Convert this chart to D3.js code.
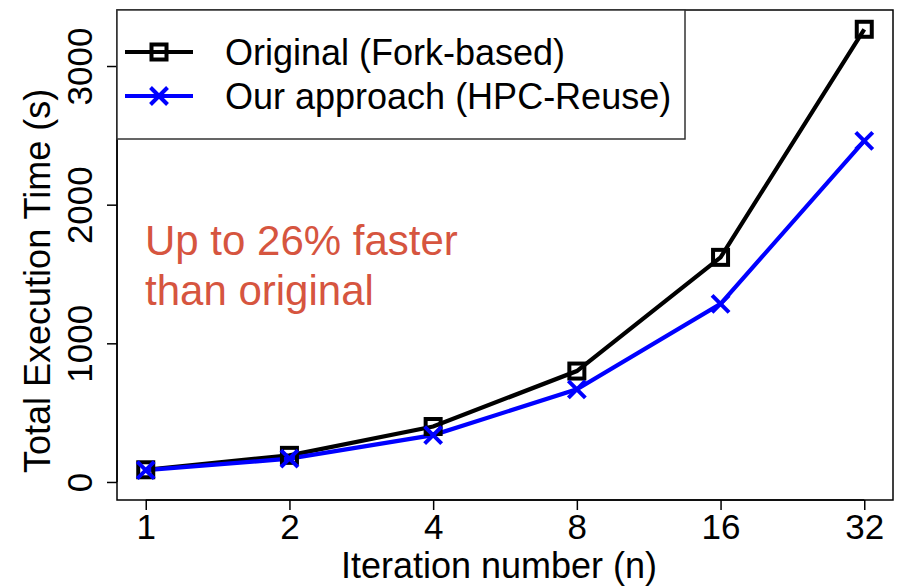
<!DOCTYPE html>
<html>
<head>
<meta charset="utf-8">
<script src="https://cdn.jsdelivr.net/npm/d3@7"></script>
<style>
  body { margin: 0; background: #fff; }
  svg { display: block; font-family: "Liberation Sans", Arial, sans-serif; }
</style>
</head>
<body>
<div id="chart"></div>
<script>
// values
const iterations = ["1", "2", "4", "8", "16", "32"];
const forkBased = [88, 192, 400, 800, 1620, 3265];
const hpcReuse = [85, 168, 338, 668, 1285, 2460];
const yTicks = [0, 1000, 2000, 3000];
const seriesNames = ["Original (Fork-based)", "Our approach (HPC-Reuse)"];

const margin = {top: 10, right: 4, bottom: 87, left: 117};
const width = 897 - margin.left - margin.right;
const height = 587 - margin.top - margin.bottom;

const root = d3.select("#chart")
    .append("svg")
    .attr("width", 897)
    .attr("height", 587);

const svg = root.append("g")
    .attr("transform", `translate(${margin.left},${margin.top})`);

const xScale = d3.scalePoint().domain(iterations).range([0, width]).padding(0.2);
const yScale = d3.scaleLinear().domain([-130, 3404]).range([height, 0]);

// y axis
const yAxis = svg.append("g")
    .call(d3.axisLeft(yScale).tickValues(yTicks).tickSize(10).tickFormat(d3.format("d")));
yAxis.select(".domain")
    .attr("d", `M0,${yScale(0)}V${yScale(3000)}`)
    .attr("stroke-width", 1.5);
yAxis.selectAll(".tick line").attr("stroke-width", 1.5);
yAxis.selectAll(".tick text")
    .attr("x", null).attr("dy", null)
    .attr("transform", "translate(-25,0) rotate(-90)")
    .attr("text-anchor", "middle")
    .attr("font-size", 35)
    .attr("fill", "#000");

// x axis
const xAxis = svg.append("g")
    .attr("transform", `translate(0,${height})`)
    .call(d3.axisBottom(xScale).tickSize(10));
xAxis.select(".domain")
    .attr("d", `M${xScale(iterations[0])},0H${xScale(iterations[iterations.length - 1])}`)
    .attr("stroke-width", 1.5);
xAxis.selectAll(".tick line").attr("stroke-width", 1.5);
xAxis.selectAll(".tick text")
    .attr("y", 39).attr("dy", null)
    .attr("font-size", 35)
    .attr("fill", "#000");

// plot frame
svg.append("rect")
    .attr("width", width)
    .attr("height", height)
    .attr("fill", "none")
    .attr("stroke", "#000")
    .attr("stroke-width", 1.5);

// axis titles
svg.append("text")
    .attr("transform", `translate(-67,${yScale(1450)}) rotate(-90)`)
    .attr("text-anchor", "middle")
    .attr("font-size", 36)
    .text("Total Execution Time (s)");

svg.append("text")
    .attr("x", width / 2 - 6)
    .attr("y", height + 78)
    .attr("text-anchor", "middle")
    .attr("font-size", 36)
    .text("Iteration number (n)");

// lines
const line = d3.line()
    .x((d, i) => xScale(iterations[i]))
    .y(d => yScale(d));

svg.append("path")
    .datum(forkBased)
    .attr("fill", "none")
    .attr("stroke", "#000")
    .attr("stroke-width", 4.2)
    .attr("d", line);

svg.append("path")
    .datum(hpcReuse)
    .attr("fill", "none")
    .attr("stroke", "#0000ff")
    .attr("stroke-width", 4.2)
    .attr("d", line);

function square(g, cx, cy) {
    g.append("rect")
        .attr("x", cx - 7.5).attr("y", cy - 7.5)
        .attr("width", 15).attr("height", 15)
        .attr("fill", "none")
        .attr("stroke", "#000")
        .attr("stroke-width", 4);
}

function cross(g, cx, cy) {
    g.append("path")
        .attr("d", `M${cx - 8.5},${cy - 8.5}L${cx + 8.5},${cy + 8.5}M${cx - 8.5},${cy + 8.5}L${cx + 8.5},${cy - 8.5}`)
        .attr("stroke", "#0000ff")
        .attr("stroke-width", 4)
        .attr("fill", "none");
}

forkBased.forEach((v, i) => square(svg, xScale(iterations[i]), yScale(v)));
hpcReuse.forEach((v, i) => cross(svg, xScale(iterations[i]), yScale(v)));

// legend
const legend = svg.append("g");
legend.append("rect")
    .attr("x", 0).attr("y", 0)
    .attr("width", 568).attr("height", 129)
    .attr("fill", "#fff")
    .attr("stroke", "#333")
    .attr("stroke-width", 1.5);

[0, 1].forEach(i => {
    const ly = 42 + i * 44;
    legend.append("line")
        .attr("x1", 8).attr("x2", 76)
        .attr("y1", ly).attr("y2", ly)
        .attr("stroke", i === 0 ? "#000" : "#0000ff")
        .attr("stroke-width", 4);
    if (i === 0) square(legend, 42, ly); else cross(legend, 42, ly);
    legend.append("text")
        .attr("x", 108)
        .attr("y", ly + 13)
        .attr("font-size", 36)
        .text(seriesNames[i]);
});

// annotation
const note = svg.append("text")
    .attr("x", 28)
    .attr("font-size", 42)
    .attr("fill", "#d6553f");
note.append("tspan").attr("x", 28).attr("y", 245).text("Up to 26% faster");
note.append("tspan").attr("x", 28).attr("y", 295).text("than original");
</script>
</body>
</html>
